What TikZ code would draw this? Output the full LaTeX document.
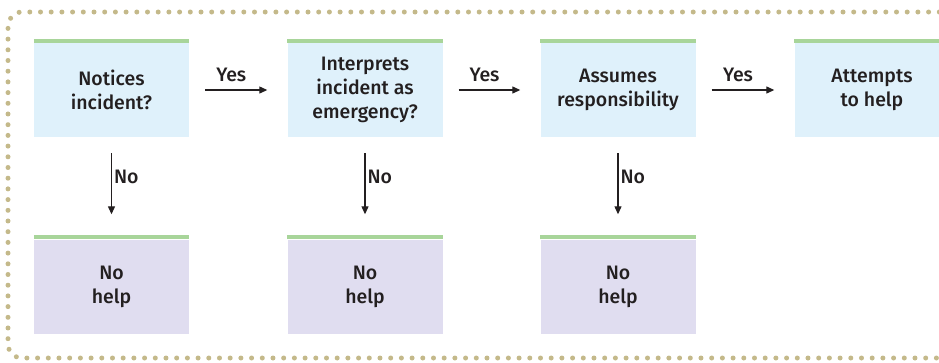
\documentclass[tikz,border=0pt]{standalone}
\usepackage{fontspec}
\setmainfont{Fira Sans}[BoldFont={Fira Sans Medium}]
\usetikzlibrary{arrows.meta,positioning,calc}
\definecolor{askfill}{HTML}{DFF1FB}
\definecolor{nohelpfill}{HTML}{E0DDF0}
\definecolor{stripgreen}{HTML}{A8D59A}
\definecolor{dotbeige}{HTML}{C4B98A}
\definecolor{inkdark}{HTML}{231F20}

\begin{document}
\begin{tikzpicture}[
  x=1pt, y=-1pt,
  font=\fontsize{19.5}{24}\selectfont\bfseries,
  text=inkdark,
  box/.style={fill=askfill, minimum width=155pt, minimum height=94pt, align=center, inner sep=0pt},
  nohelp/.style={box, fill=nohelpfill},
  strip/.style={draw=stripgreen, line width=4pt},
  lab/.style={inner sep=2pt},
  arr/.style={-{Triangle[length=8pt, width=7pt]}, line width=1.2pt, draw=inkdark}
]
\useasboundingbox (0,0) rectangle (939,362);

% ---------- Frame ----------
\draw[dotbeige, line width=5pt, line cap=round, dash pattern=on 0pt off 10.7pt, rounded corners=14pt]
  (950,12) -- (8,12) -- (8,358) -- (950,358);

% ---------- Decision steps ----------
\node[box] (notice) at (111.5,90) {Notices\\incident?};
\node[box] (interp) at (365,90)   {Interprets\\incident as\\emergency?};
\node[box] (assume) at (618,90)   {Assumes\\responsibility};
\node[box] (help)   at (872,90)   {Attempts\\to help};

% ---------- Outcomes ----------
\node[nohelp] (no1) at (111.5,286.5) {No\\help};
\node[nohelp] (no2) at (365,286.5)   {No\\help};
\node[nohelp] (no3) at (618,286.5)   {No\\help};

% ---------- Top strips ----------
\foreach \n in {notice,interp,assume,help,no1,no2,no3}
  \draw[strip] ([yshift=2pt]\n.north west) -- ([yshift=2pt]\n.north east);

% ---------- Yes arrows ----------
\draw[arr] ([xshift=16pt]notice.east) -- node[lab, above=6pt, xshift=-5pt]{Yes} ([xshift=-20pt]interp.west);
\draw[arr] ([xshift=16pt]interp.east) -- node[lab, above=6pt, xshift=-5pt]{Yes} ([xshift=-20pt]assume.west);
\draw[arr] ([xshift=16pt]assume.east) -- node[lab, above=6pt, xshift=-5pt]{Yes} ([xshift=-20pt]help.west);

% ---------- No arrows ----------
\draw[arr] ([yshift=-16pt]notice.south) -- node[lab, right, pos=0.38]{No} ([yshift=25pt]no1.north);
\draw[arr] ([yshift=-16pt]interp.south) -- node[lab, right, pos=0.38]{No} ([yshift=25pt]no2.north);
\draw[arr] ([yshift=-16pt]assume.south) -- node[lab, right, pos=0.38]{No} ([yshift=25pt]no3.north);
\end{tikzpicture}
\end{document}
